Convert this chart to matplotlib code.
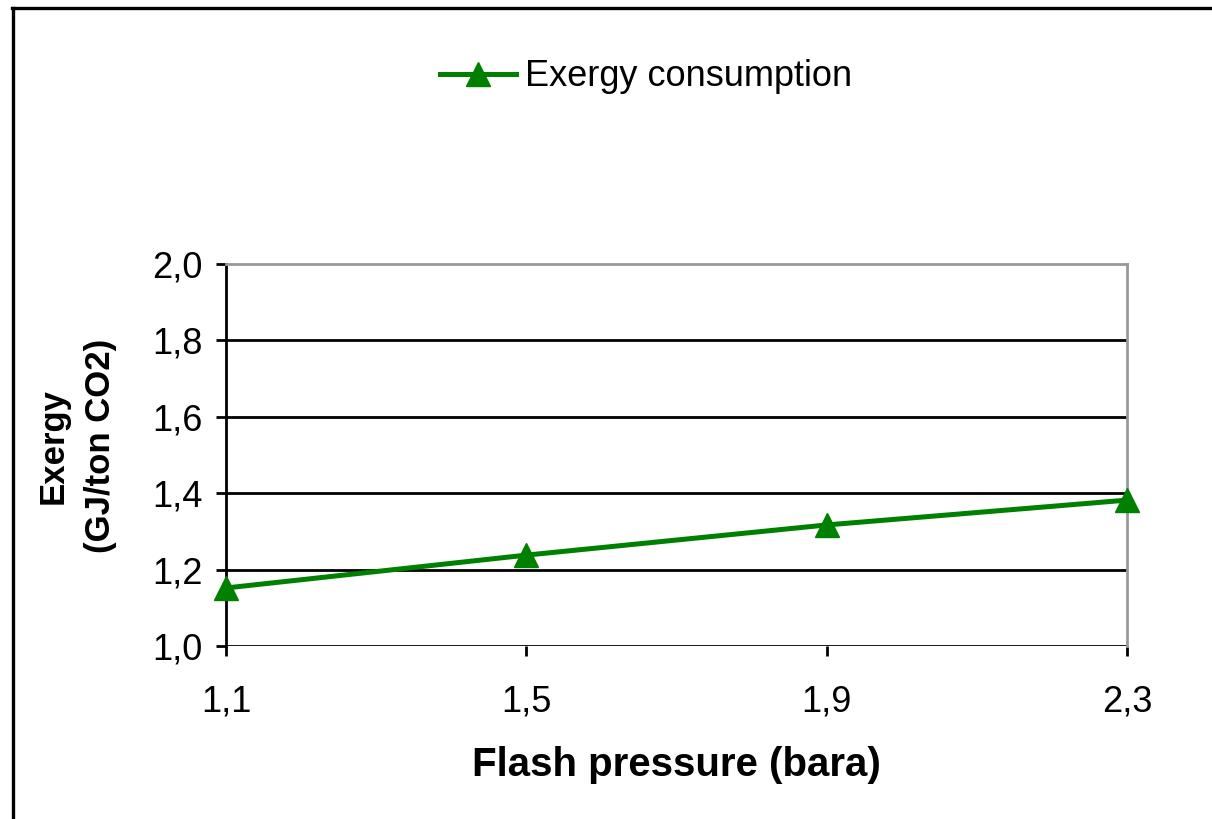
import matplotlib.pyplot as plt
from matplotlib.lines import Line2D
from matplotlib.ticker import FuncFormatter

plt.rcParams['font.family'] = ['Liberation Sans', 'DejaVu Sans']

# flash pressure (bara) and exergy consumption (GJ/ton CO2)
pressure = [1.1, 1.5, 1.9, 2.3]
exergy = [1.152, 1.238, 1.317, 1.382]
y_ticks = [1.0, 1.2, 1.4, 1.6, 1.8, 2.0]

fig = plt.figure(figsize=(12.12, 8.19), dpi=100)
ax = fig.add_axes([0.1865, 0.2112, 0.7434, 0.4664])

# horizontal gridlines in black (top edge is the grey plot frame)
for yv in y_ticks[:-1]:
    ax.axhline(yv, color='black', lw=2.0, zorder=1)

ax.plot(pressure, exergy, color='#008000', lw=3.6, marker='^', markersize=17,
        clip_on=False, zorder=3, label='Exergy consumption')

ax.set_xlim(1.1, 2.3)
ax.set_ylim(1.0, 2.0)
ax.set_xticks(pressure)
ax.set_yticks(y_ticks)
comma = FuncFormatter(lambda v, p: ('%.1f' % v).replace('.', ','))
ax.xaxis.set_major_formatter(comma)
ax.yaxis.set_major_formatter(comma)
ax.tick_params(axis='both', labelsize=26, width=2.0, length=7, direction='out')
ax.tick_params(axis='x', pad=21)
ax.tick_params(axis='y', pad=10)

ax.spines['bottom'].set_visible(False)
ax.spines['left'].set_linewidth(2.0)
for side in ('right', 'top'):
    ax.spines[side].set_color('#999999')
    ax.spines[side].set_linewidth(2.0)

fig.text(0.558, 0.066, 'Flash pressure (bara)', fontsize=29, fontweight='bold',
         ha='center', va='center')
fig.text(0.0635, 0.456, 'Exergy\n(GJ/ton CO2)', fontsize=25, fontweight='bold',
         ha='center', va='center', rotation=90, linespacing=1.55)

fig.legend(loc='center', bbox_to_anchor=(0.533, 0.906), frameon=False,
           fontsize=26, handlelength=2.1, handletextpad=0.25)

# outer frame on the left and top
fig.add_artist(Line2D([0.0105, 0.0105], [0.0, 0.9905], transform=fig.transFigure,
                      color='black', lw=2.4))
fig.add_artist(Line2D([0.0095, 1.0], [0.9905, 0.9905], transform=fig.transFigure,
                      color='black', lw=2.4))

fig.savefig('out.png', dpi=100)
